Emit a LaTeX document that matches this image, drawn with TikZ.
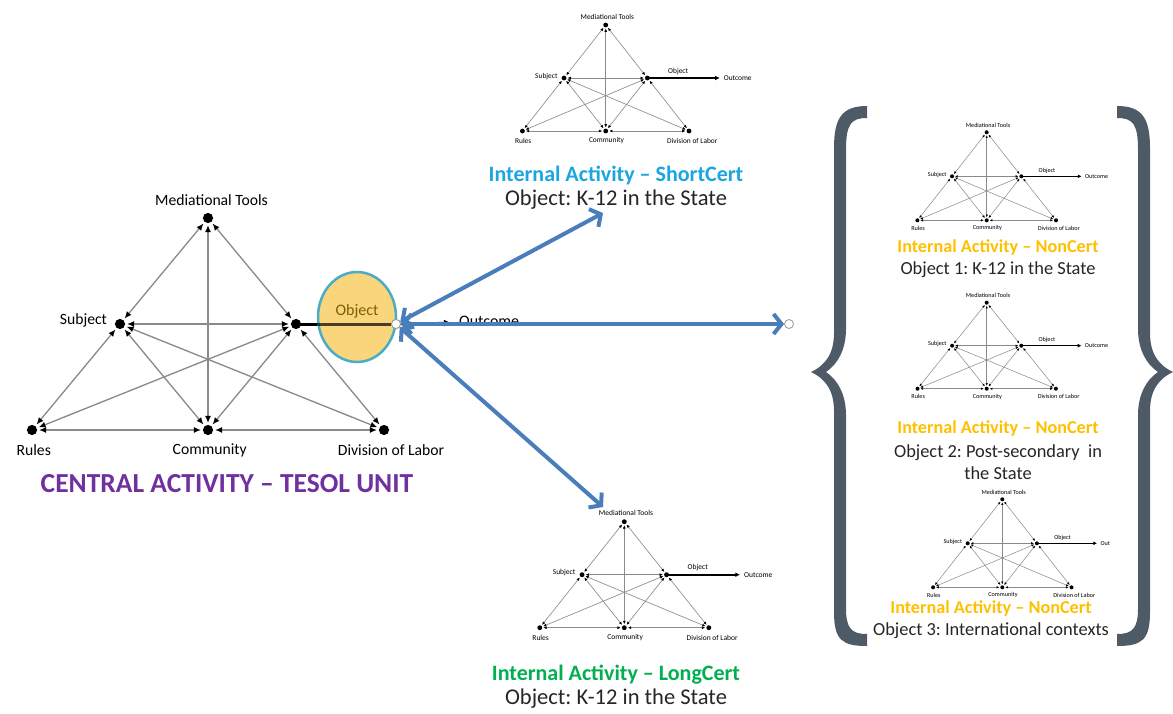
\documentclass[tikz,border=0pt]{standalone}
\usepackage{fontspec}
\setmainfont{Carlito}
\usetikzlibrary{arrows.meta,calc,shapes.geometric}
\frenchspacing

\definecolor{linkgrey}{HTML}{8A8A8A}
\definecolor{hubblue}{HTML}{4A7EBB}
\definecolor{bracegrey}{HTML}{4F5A67}
\definecolor{objfill}{HTML}{F9D57C}
\definecolor{objline}{HTML}{4BACC6}
\definecolor{objtext}{HTML}{7F6000}
\definecolor{centralc}{HTML}{7030A0}
\definecolor{shortc}{HTML}{1AA6E0}
\definecolor{nonc}{HTML}{FFC000}
\definecolor{longc}{HTML}{00B050}

\tikzset{
  dotnode/.style={circle, fill=black, inner sep=0pt},
  lab/.style={inner sep=0.5pt},
  hubnode/.style={circle, draw=gray!80, fill=white, line width=0.8pt, minimum size=9pt, inner sep=0pt},
  bluearrow/.style={draw=hubblue, line width=4pt,
    arrows={Straight Barb[length=8pt,width=20pt]-Straight Barb[length=8pt,width=20pt]}},
  ttl/.style={font=\fontsize{22}{26}\selectfont\bfseries, inner sep=0pt},
  sub/.style={font=\fontsize{22.5}{26}\selectfont, inner sep=0pt, text=black!85},
  ttlr/.style={font=\fontsize{18.2}{21}\selectfont\bfseries, inner sep=0pt},
  subr/.style={font=\fontsize{18.4}{21}\selectfont, inner sep=0pt, text=black!85},
}

% Activity system triangle: #1 name, (#2,#3) apex, #4 half base, #5 height
\newcommand\actsys[5]{%
  \pgfmathsetmacro\asFs{0.089*#4}%
  \pgfmathsetmacro\asDot{0.058*#4}%
  \pgfmathsetmacro\asTip{0.04*#4}%
  \pgfmathsetmacro\asTipW{0.034*#4}%
  \pgfmathsetmacro\asLw{0.0075*#4}%
  \pgfmathsetmacro\asGap{0.01*#4}%
  \node[dotnode, minimum size=\asDot pt] (#1-mt)  at (#2,#3) {};
  \node[dotnode, minimum size=\asDot pt] (#1-sub) at ({#2-#4/2},{#3+#5/2}) {};
  \node[dotnode, minimum size=\asDot pt] (#1-obj) at ({#2+#4/2},{#3+#5/2}) {};
  \node[dotnode, minimum size=\asDot pt] (#1-rul) at ({#2-#4},{#3+#5}) {};
  \node[dotnode, minimum size=\asDot pt] (#1-com) at (#2,{#3+#5}) {};
  \node[dotnode, minimum size=\asDot pt] (#1-dol) at ({#2+#4},{#3+#5}) {};
  \begin{scope}[font=\fontsize{\asFs}{\asFs}\selectfont]
    \node[lab] (#1-mtl) at ({#2+0.02*#4},{#3-0.1*#4}) {Mediational Tools};
    \node[lab, anchor=east] (#1-subl) at ({#2-#4/2-0.07*#4},{#3+#5/2-0.02*#4}) {Subject};
    \node[lab] (#1-rull) at ({#2-#4+0.01*#4},{#3+#5+0.115*#4}) {Rules};
    \node[lab] (#1-coml) at ({#2+0.01*#4},{#3+#5+0.115*#4}) {Community};
    \node[lab] (#1-doll) at ({#2+#4+0.04*#4},{#3+#5+0.115*#4}) {Division of Labor};
  \end{scope}
  \foreach \p/\q in {mt/sub,mt/obj,mt/com,sub/obj,sub/rul,sub/com,sub/dol,obj/rul,obj/com,obj/dol,rul/com,com/dol}
    \draw[linkgrey, line width=\asLw pt, shorten <=\asGap pt, shorten >=\asGap pt,
          arrows={Latex[length=\asTip pt,width=\asTipW pt,black]-Latex[length=\asTip pt,width=\asTipW pt,black]}]
      (#1-\p) -- (#1-\q);
}

% Object-to-outcome arrow of a small triangle: #1 name, #2 half base, #3 outcome text
\newcommand\outc[3]{%
  \pgfmathsetmacro\asFs{0.089*#2}%
  \pgfmathsetmacro\ocLw{0.02*#2}%
  \pgfmathsetmacro\ocTip{0.055*#2}%
  \coordinate (#1-tip) at ($(#1-obj.center)+({0.87*#2},0)$);
  \draw[line width=\ocLw pt, -{Latex[length=\ocTip pt,width=\ocTip pt]}] (#1-obj.center) -- (#1-tip);
  \node[lab, font=\fontsize{\asFs}{\asFs}\selectfont] (#1-objl) at ($(#1-obj.center)+({0.37*#2},{-0.08*#2})$) {Object};
  \node[lab, anchor=west, font=\fontsize{\asFs}{\asFs}\selectfont] (#1-outl) at ($(#1-tip)+({0.04*#2},0)$) {#3};
}

% curly bracket outline, left-hand version
\newcommand\bracepath{%
  (867,106) .. controls (842,106) and (834,118) .. (834,148) -- (834,333)
  .. controls (834,353) and (826,365) .. (811,372)
  .. controls (826,379) and (834,391) .. (834,411) -- (834,612)
  .. controls (834,640) and (842,646) .. (867,646) -- (867,634)
  .. controls (851,634) and (846,628) .. (846,608) -- (846,415)
  .. controls (846,395) and (838,380) .. (826,372)
  .. controls (838,364) and (846,349) .. (846,329) -- (846,150)
  .. controls (846,124) and (851,118) .. (867,118) -- cycle}

\begin{document}
\begin{tikzpicture}[x=1pt,y=-1pt]
\useasboundingbox (0,0) rectangle (1173,713);
\fill[white] (0,0) rectangle (1173,713);

% ---------- central activity system ----------
\actsys{c}{208}{218}{176}{212}
\node[font=\fontsize{27.5}{31}\selectfont\bfseries, text=centralc, inner sep=0pt] (ctitle) at (227,484) {CENTRAL ACTIVITY – TESOL UNIT};

% object ellipse with the outcome line
\node[hubnode] (hub) at (396,324) {};
\node[ellipse, draw=objline, line width=2.5pt, fill=objfill, minimum width=78pt, minimum height=90pt, inner sep=0pt] (objell) at (357,317) {};
\draw[line width=3pt] (c-obj.center) -- (objell.west |- c-obj);
\draw[line width=3pt, draw=black, draw opacity=0.7] (objell.west |- c-obj) -- (hub);
\node[font=\fontsize{16}{18}\selectfont, text=objtext, inner sep=0pt] (objlab) at (357,311) {Object};
\coordinate (outtip) at (452,323);
\draw[line width=2.5pt, -{Latex[length=8pt,width=7pt]}] (hub) -- (outtip);
\node[font=\fontsize{16}{18}\selectfont, anchor=west, inner sep=0pt] (outlab) at (459,321) {Outcome};
\node[hubnode] (hub) at (396,324) {};

% ---------- internal activities ----------
\actsys{s}{605.7}{25}{83.3}{106}
\outc{s}{83.3}{Outcome}
\node[ttl, text=shortc] (stitle) at (616,175) {Internal Activity – ShortCert};
\node[sub] (sobj) at (616,200) {Object: K-12 in the State};

\actsys{l}{624.3}{521.7}{84.5}{106}
\outc{l}{84.5}{Outcome}
\node[ttl, text=longc] (ltitle) at (616,675) {Internal Activity – LongCert};
\node[sub] (lobj) at (616,699) {Object: K-12 in the State};

\actsys{n1}{986.7}{132.3}{69.3}{88}
\outc{n1}{69.3}{Outcome}
\node[ttlr, text=nonc] (n1title) at (998,248) {Internal Activity – NonCert};
\node[subr] (n1obj) at (998,270) {Object 1: K-12 in the State};

\actsys{n2}{986.7}{302.7}{69.2}{86}
\outc{n2}{69.2}{Outcome}
\node[ttlr, text=nonc] (n2title) at (998,429) {Internal Activity – NonCert};
\node[subr] (n2obj) at (998,453) {Object 2: Post-secondary\ \ in};
\node[subr] (n2obj2) at (998,473) {the State};

\actsys{n3}{1002.3}{499.3}{69.2}{88}
\outc{n3}{69.2}{Out}
\node[ttlr, text=nonc] (n3title) at (991,609) {Internal Activity – NonCert};
\node[subr] (n3obj) at (991,631) {Object 3: International contexts};

% ---------- brackets ----------
\fill[bracegrey] \bracepath;
\begin{scope}[xshift=1984pt, xscale=-1]
  \fill[bracegrey] \bracepath;
\end{scope}

% ---------- links from the central object ----------
\coordinate (stip) at (603,213);
\coordinate (ltip) at (603,507);
\node[hubnode] (far) at (789,324) {};
\draw[bluearrow] (hub) -- (stip);
\draw[bluearrow] (hub) -- (ltip);
\draw[bluearrow] (hub) -- (far);
\node[hubnode] at (hub) {};
\end{tikzpicture}
\end{document}
